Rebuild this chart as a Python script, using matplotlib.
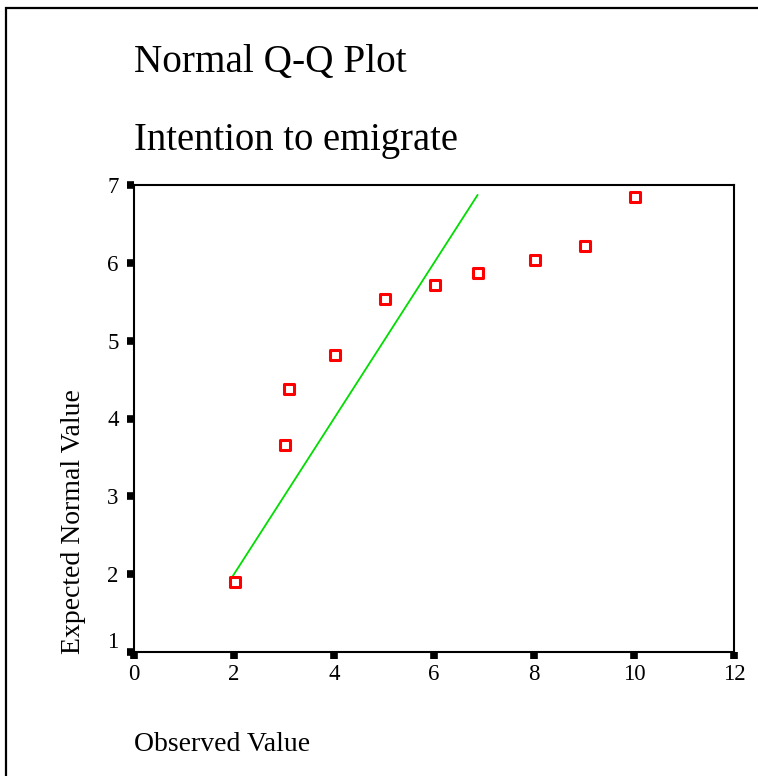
#!/usr/bin/env python3
"""Normal Q-Q plot of intention to emigrate (SPSS-style)."""
import matplotlib
matplotlib.use("Agg")
import matplotlib.pyplot as plt
from matplotlib.patches import Rectangle
from matplotlib import transforms

# observed vs expected normal values
observed = [2.02, 3.02, 3.10, 4.02, 5.02, 6.02, 6.88, 8.02, 9.02, 10.02]
expected = [1.90, 3.66, 4.38, 4.82, 5.54, 5.72, 5.87, 6.03, 6.21, 6.85]

# reference line end points
line_x = [1.94, 6.87]
line_y = [1.94, 6.87]

x_ticks = [0, 2, 4, 6, 8, 10, 12]
y_ticks = [1, 2, 3, 4, 5, 6, 7]

plt.rcParams["font.family"] = ["Liberation Serif", "DejaVu Serif"]

W, H = 758, 776
fig = plt.figure(figsize=(W / 100, H / 100), dpi=100)

# outer frame
fig.patches.append(Rectangle((6 / W, 0 - 0.01), 1.0, 1 - 8 / H + 0.01,
                             transform=fig.transFigure, fill=False,
                             edgecolor="black", linewidth=1.6))

ax = fig.add_axes([134 / W, 1 - 652 / H, 600 / W, 467 / H])
ax.plot(line_x, line_y, color="#00dd00", linewidth=1.3, zorder=2)
ax.scatter(observed, expected, marker="s", s=60, facecolors="white",
           edgecolors="#ff0000", linewidths=2.2, zorder=3)

ax.set_xlim(0, 12)
ax.set_ylim(1, 7)
ax.set_xticks(x_ticks)
ax.set_yticks(y_ticks)
ax.tick_params(direction="out", length=5, width=5.5, labelsize=16.5)
ax.tick_params(axis="y", pad=6)
ax.tick_params(axis="x", pad=4)
for sp in ax.spines.values():
    sp.set_linewidth(1.5)

# nudge the "1" label up so it doesn't sit on the "0"
lab = ax.get_yticklabels()[0]
lab.set_transform(lab.get_transform() + transforms.ScaledTranslation(0, 12 / 100, fig.dpi_scale_trans))

fig.text(134 / W, 1 - 72 / H, "Normal Q-Q Plot", fontsize=28.3, va="baseline", ha="left")
fig.text(134 / W, 1 - 150 / H, "Intention to emigrate", fontsize=27.8, va="baseline", ha="left")
fig.text(134 / W, 1 - 751 / H, "Observed Value", fontsize=20, va="baseline", ha="left")
fig.text(86 / W, 1 - 654 / H, "Expected Normal Value", fontsize=20, rotation=90,
         va="bottom", ha="left", rotation_mode="anchor")

fig.savefig("out.png", dpi=100)
